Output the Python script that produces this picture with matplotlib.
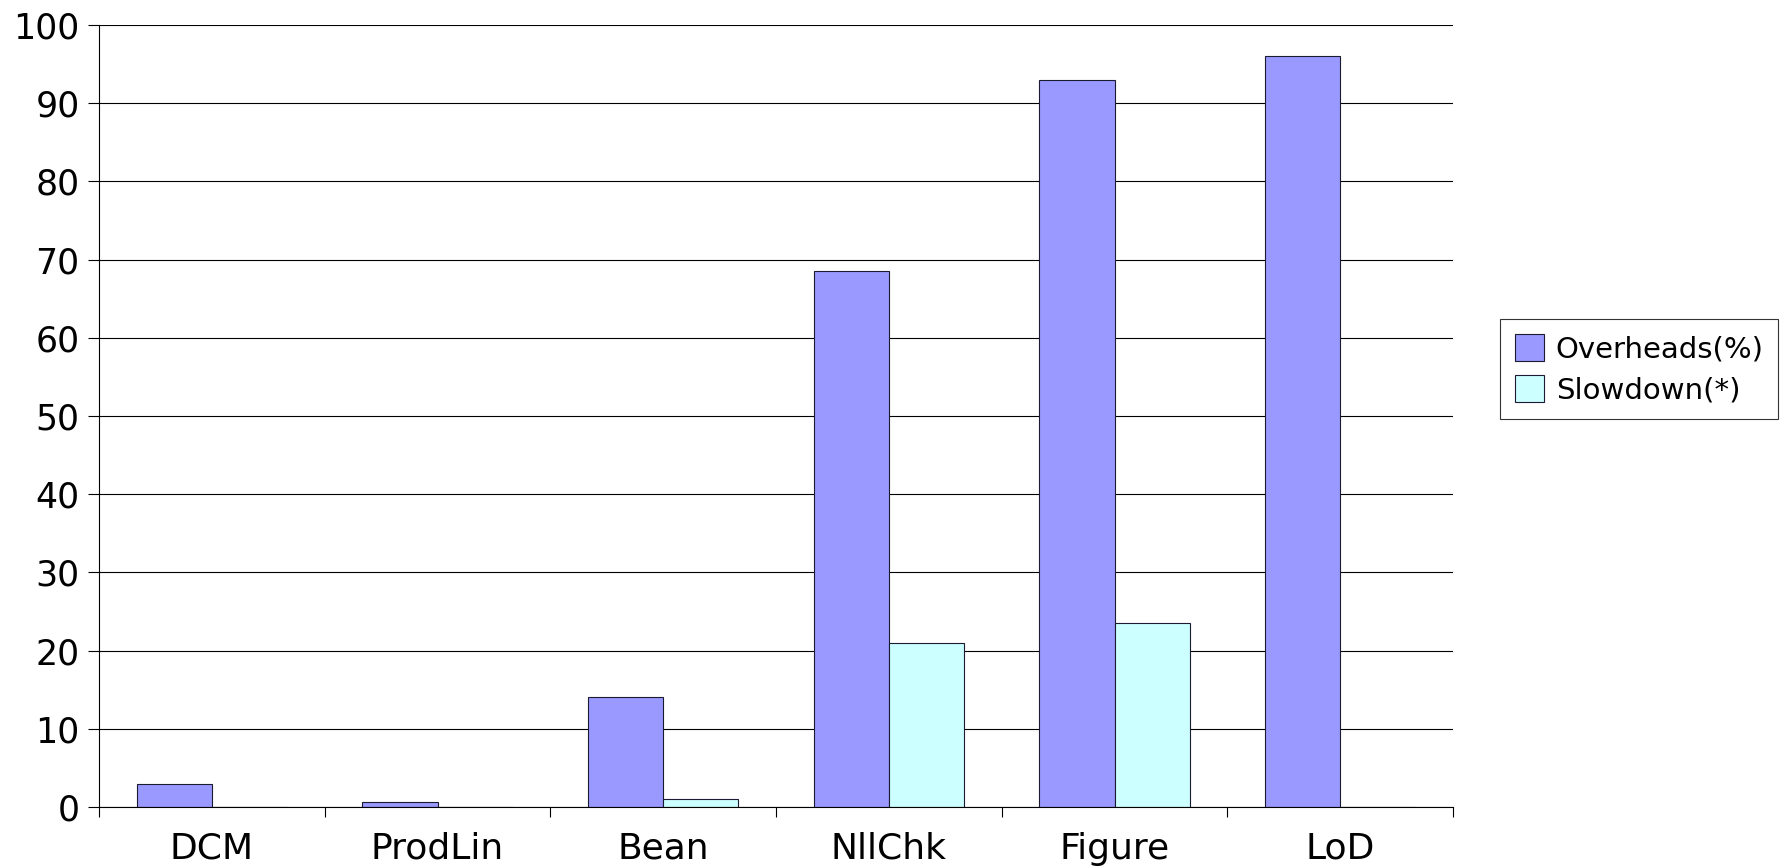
import matplotlib
matplotlib.use("Agg")
import matplotlib.pyplot as plt
import numpy as np

# values
categories = ["DCM", "ProdLin", "Bean", "NllChk", "Figure", "LoD"]
overheads = [2.9, 0.6, 14.1, 68.6, 93.0, 96.0]
slowdown = [0.0, 0.0, 1.0, 21.0, 23.5, 0.0]
series_names = ["Overheads(%)", "Slowdown(*)"]
y_ticks = list(range(0, 101, 10))

fig = plt.figure(figsize=(17.82, 8.68), dpi=100)
ax = fig.add_axes([0.0556, 0.0703, 0.7598, 0.9009])

x = np.arange(len(categories))
width = 1 / 3
ax.bar(x - width / 2, overheads, width, color="#9999ff", edgecolor="#1a1a33",
       linewidth=0.8, label=series_names[0], zorder=3)
ax.bar(x + width / 2, slowdown, width, color="#ccffff", edgecolor="#1a1a33",
       linewidth=0.8, label=series_names[1], zorder=3)

ax.set_xlim(-0.5, len(categories) - 0.5)
ax.set_ylim(0, 100)
ax.set_yticks(y_ticks)
ax.yaxis.grid(True, color="black", linewidth=0.8, zorder=0)

# category labels centred, tick marks on the category boundaries
ax.set_xticks(x)
ax.set_xticklabels(categories)
ax.set_xticks(np.arange(-0.5, len(categories)), minor=True)
ax.tick_params(axis="x", which="major", length=0, pad=18, labelsize=26)
ax.tick_params(axis="x", which="minor", length=7, width=0.8, direction="out")
ax.tick_params(axis="y", length=8, width=0.8, direction="out", pad=6, labelsize=25)

for side in ("top", "right"):
    ax.spines[side].set_visible(False)
for side in ("left", "bottom"):
    ax.spines[side].set_linewidth(0.8)
    ax.spines[side].set_zorder(4)

leg = ax.legend(loc="center left", bbox_to_anchor=(1.035, 0.56), fontsize=21,
                frameon=True, fancybox=False, edgecolor="black",
                handlelength=1.0, handleheight=1.05, handletextpad=0.4,
                borderpad=0.5, labelspacing=0.4, borderaxespad=0)
leg.get_frame().set_linewidth(0.8)

fig.savefig("out.png", dpi=100)
